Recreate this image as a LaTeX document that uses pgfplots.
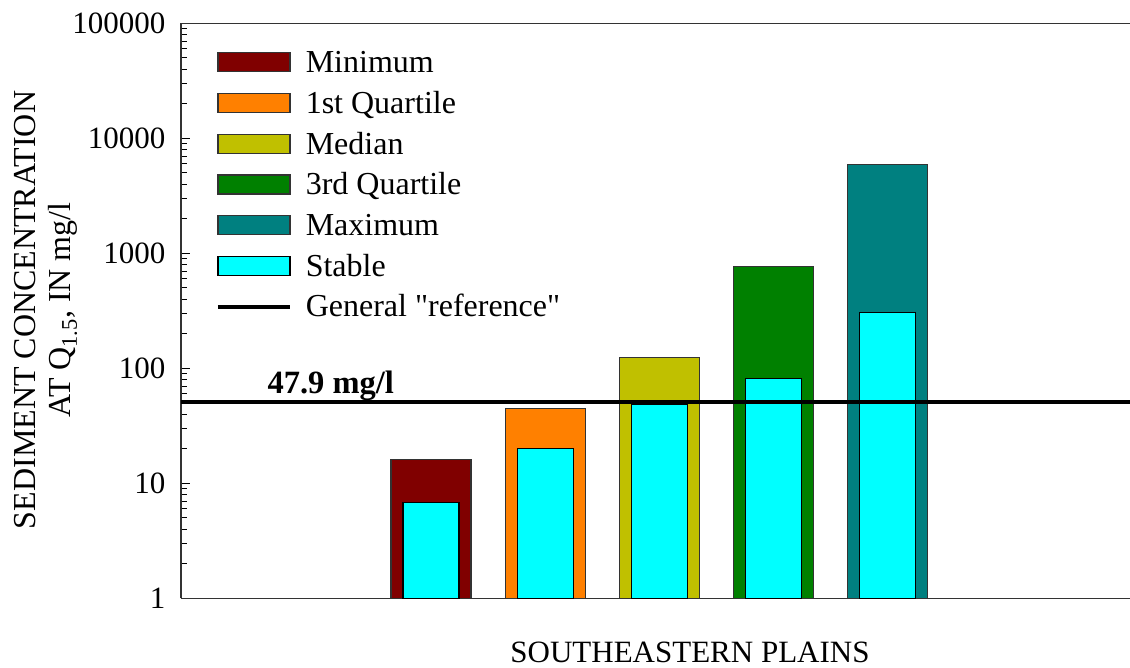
\documentclass[border=0pt]{standalone}
\usepackage{fontspec}
\setmainfont{Liberation Serif}
\usepackage{pgfplots}
\pgfplotsset{compat=1.18}
\definecolor{cMin}{HTML}{800000}
\definecolor{cQ1}{HTML}{FF8000}
\definecolor{cMed}{HTML}{C0C000}
\definecolor{cQ3}{HTML}{008000}
\definecolor{cMax}{HTML}{008080}
\definecolor{cStab}{HTML}{00FFFF}
\newcommand\bigf{\fontsize{31bp}{36bp}\selectfont}
\newcommand\legf{\fontsize{32bp}{35bp}\selectfont}
\pgfplotsset{
  boxlegend/.style={legend image code/.code={\draw[##1, line width=1.2bp] (0bp,-5.5bp) rectangle (72bp,13.5bp);}},
  linelegend/.style={legend image code/.code={\draw[##1, line width=3.8bp] (0bp,3.5bp) -- (72bp,3.5bp);}},
}
\begin{document}
\begin{tikzpicture}[font=\bigf]
\useasboundingbox (0,0) rectangle (1130bp,668bp);
\begin{axis}[
  at={(181bp,69.7bp)}, anchor=south west,
  scale only axis, width=949bp, height=575bp,
  xmin=181, xmax=1130,
  ymode=log, log basis y=10, ymin=1, ymax=100000,
  axis lines=left, axis line style={-, line width=1.3bp, black!80},
  xtick=\empty,
  ytick={1,10,100,1000,10000,100000},
  yticklabels={1,10,100,1000,10000,100000},
  minor ytick={2,3,4,5,6,7,8,9,20,30,40,50,60,70,80,90,200,300,400,500,600,700,800,900,2000,3000,4000,5000,6000,7000,8000,9000,20000,30000,40000,50000,60000,70000,80000,90000},
  tick align=inside, ytick pos=left,
  major tick length=9bp, minor tick length=6bp,
  every tick/.style={black, line width=1bp},
  yticklabel style={font=\bigf, xshift=-12bp},
  /pgf/number format/assume math mode=true,
  legend cell align=left,
  legend style={draw=none, fill=none, inner sep=0pt, outer sep=0pt,
    at={(rel axis cs:0.03688,0.9501)}, anchor=north west,
    row sep=13.2bp, font=\legf,
    nodes={inner sep=0pt, text height=20bp, text depth=7bp},
    /tikz/every odd column/.append style={column sep=14bp}},
  clip=false,
]
\addplot[ybar, bar width=80, bar shift=0pt, fill=cMin, draw=black!80, line width=1.2bp, boxlegend] coordinates {(431,16.0)};
\addlegendentry{Minimum}
\addplot[ybar, bar width=80, bar shift=0pt, fill=cQ1, draw=black!80, line width=1.2bp, boxlegend] coordinates {(545.5,44.6)};
\addlegendentry{1st Quartile}
\addplot[ybar, bar width=80, bar shift=0pt, fill=cMed, draw=black!80, line width=1.2bp, boxlegend] coordinates {(659.5,124.4)};
\addlegendentry{Median}
\addplot[ybar, bar width=80, bar shift=0pt, fill=cQ3, draw=black!80, line width=1.2bp, boxlegend] coordinates {(773.5,762)};
\addlegendentry{3rd Quartile}
\addplot[ybar, bar width=80, bar shift=0pt, fill=cMax, draw=black!80, line width=1.2bp, boxlegend] coordinates {(887.5,5890)};
\addlegendentry{Maximum}
\addplot[ybar, bar width=56, bar shift=0pt, fill=cStab, draw=black, line width=1.2bp, boxlegend] coordinates {(431,6.77) (545.5,20.0) (659.5,48.6) (773.5,81.7) (887.5,308)};
\addlegendentry{Stable}
\addplot[black, line width=3.8bp, linelegend] coordinates {(181,51) (1130,51)};
\addlegendentry{General \textquotedbl reference\textquotedbl}
\node[anchor=base west, font=\fontsize{32.5bp}{36bp}\selectfont\bfseries, inner sep=0pt] at (axis cs:267.3,60.6) {47.9 mg/l};
\draw[line width=1.3bp, black!80] (rel axis cs:0,1) -- (rel axis cs:1,1);
\end{axis}
\node[rotate=90, align=center, inner sep=0pt, font=\legf] at (46bp,358bp) {SEDIMENT CONCENTRATION\\AT Q\textsubscript{1.5}, IN mg/l};
\node[anchor=base, inner sep=0pt, font=\bigf] at (690bp,6bp) {SOUTHEASTERN PLAINS};
\end{tikzpicture}
\end{document}
